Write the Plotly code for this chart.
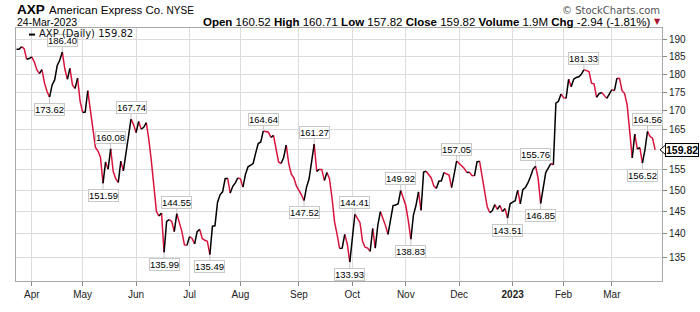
import math
import pandas as pd
import plotly.graph_objects as go

# ---------------- data ----------------
closes = [
    187.2, 187.2, 188.0, 187.4, 184.3, 184.5, 185.0, 183.5, 181.3, 180.2,
    181.3, 177.5, 175.2, 173.62, 177.0, 178.4, 182.5, 184.0, 186.40, 181.5,
    178.6, 181.7, 177.0, 176.0, 178.9, 172.5, 169.5, 169.6, 175.4, 170.0,
    164.5, 160.5, 159.5, 158.0, 151.59, 156.8, 155.0, 160.08, 154.5, 152.7,
    151.8, 157.0, 154.6, 159.0, 163.0, 167.74, 166.3, 164.2, 167.1, 165.1,
    165.6, 166.8, 162.5, 157.0, 151.0, 145.0, 144.0, 144.7, 135.99, 142.8,
    143.2, 142.8, 140.5, 144.55, 142.5, 140.5, 137.6, 137.5, 139.4, 139.0,
    137.8, 140.5, 141.0, 139.0, 138.6, 138.4, 135.49, 141.7, 141.8, 147.1,
    148.9, 149.6, 152.7, 152.8, 149.3, 150.9, 151.7, 152.9, 152.7, 150.7,
    153.8, 155.6, 156.0, 156.4, 159.0, 161.4, 161.8, 164.64, 164.4, 164.3,
    163.0, 163.5, 160.0, 156.8, 156.4, 157.9, 161.0, 156.4, 153.8, 152.9,
    151.0, 150.0, 148.9, 147.52, 150.7, 152.7, 156.4, 161.27, 154.5, 155.0,
    154.9, 152.3, 154.2, 152.7, 148.2, 142.7, 139.9, 136.8, 136.9, 139.9,
    137.8, 133.93, 139.2, 144.41, 143.5, 142.5, 138.4, 137.1, 136.9, 136.2,
    141.2, 136.9, 141.9, 145.0, 143.5, 141.9, 139.9, 142.9, 146.4, 146.5,
    146.8, 149.92, 148.2, 146.4, 142.9, 138.83, 144.2, 146.4, 149.6, 145.3,
    154.3, 154.5, 153.8, 152.9, 151.0, 150.4, 152.1, 152.2, 154.2, 153.9,
    153.6, 150.6, 154.2, 157.05, 156.4, 155.6, 155.2, 154.2, 154.3, 153.5,
    153.4, 156.8, 157.0, 153.4, 148.9, 146.1, 144.8, 145.2, 146.6, 145.5,
    146.4, 145.0, 145.7, 143.51, 146.8, 147.2, 147.5, 150.0, 146.8, 150.1,
    150.6, 151.7, 153.2, 155.0, 155.76, 152.9, 146.85, 151.1, 154.2, 155.3,
    156.4, 156.1, 172.0, 172.5, 174.5, 173.5, 173.3, 178.6, 176.5, 178.6,
    179.1, 179.3, 180.0, 181.33, 181.0, 180.8, 177.5, 177.3, 173.6, 174.6,
    174.9, 174.2, 173.3, 174.5, 175.7, 175.4, 178.9, 178.8, 175.4, 174.6,
    171.6, 165.3, 157.8, 163.8, 160.0, 160.4, 156.52, 159.8, 164.56, 163.2,
    162.76, 159.82,
]
holidays = ["2022-04-15", "2022-05-30", "2022-06-20", "2022-07-04", "2022-09-05",
            "2022-11-24", "2022-12-26", "2023-01-02", "2023-01-16", "2023-02-20"]
high_labels = [186.40, 160.08, 167.74, 144.55, 164.64, 161.27, 144.41, 149.92,
               157.05, 155.76, 181.33, 164.56]
low_labels = [173.62, 151.59, 135.99, 135.49, 147.52, 133.93, 138.83, 143.51,
              146.85, 156.52]
y_ticks = [135, 140, 145, 150, 155, 160, 165, 170, 175, 180, 185, 190]
# the 160 label is hidden behind the last-price tag in the reference
y_tick_labels = ["135", "140", "145", "150", "155", "", "165", "170", "175",
                 "180", "185", "190"]
month_labels = ["Apr", "May", "Jun", "Jul", "Aug", "Sep", "Oct", "Nov", "Dec",
                "<b>2023</b>", "Feb", "Mar"]
header_ticker = "AXP"
header_name = "American Express Co."
header_exch = "NYSE"
header_date = "24-Mar-2023"
quote = {"Open": "160.52", "High": "160.71", "Low": "157.82", "Close": "159.82",
         "Volume": "1.9M", "Chg": "-2.94 (-1.81%)"}

dates = [d for d in pd.bdate_range("2022-03-24", "2023-03-24")
         if d.strftime("%Y-%m-%d") not in holidays]
n = len(closes)
assert len(dates) == n
xs = list(range(n))
month_idx = [i for i in range(1, n) if dates[i].month != dates[i - 1].month]

# ---------------- colored line runs ----------------
up_x, up_y, dn_x, dn_y = [], [], [], []
i = 1
while i < n:
    up = closes[i] >= closes[i - 1]
    j = i
    while j + 1 < n and (closes[j + 1] >= closes[j]) == up:
        j += 1
    sx = xs[i - 1:j + 1] + [None]
    sy = closes[i - 1:j + 1] + [None]
    if up:
        up_x += sx; up_y += sy
    else:
        dn_x += sx; dn_y += sy
    i = j + 1

RED = "#d8143c"
fig = go.Figure()
fig.add_trace(go.Scatter(x=dn_x, y=dn_y, mode="lines", line=dict(color=RED, width=1.5),
                         hoverinfo="skip", showlegend=False))
fig.add_trace(go.Scatter(x=up_x, y=up_y, mode="lines", line=dict(color="black", width=1.5),
                         hoverinfo="skip", showlegend=False))

# ---------------- layout ----------------
PL, PR, PT, PB = 16, 662, 28, 297
W, H = 700, 312
ylo, yhi = math.log10(130.0), math.log10(193.6)


def px(x):
    return (x - PL) / (PR - PL)


def py(y):
    return (PB - y) / (PB - PT)


GRID = "#dcdcdc"
fig.update_layout(
    width=W, height=H,
    margin=dict(l=PL, r=W - PR, t=PT, b=H - PB),
    paper_bgcolor="white", plot_bgcolor="white",
    xaxis=dict(range=[-0.2, 253.7], tickvals=month_idx, ticktext=month_labels,
               showgrid=True, gridcolor=GRID, gridwidth=1, zeroline=False,
               ticks="outside", ticklen=4, tickcolor="#888",
               showline=True, mirror=True, linecolor="#a8a8a8", linewidth=1,
               tickfont=dict(family="Liberation Sans, Arial", size=10, color="#222")),
    yaxis=dict(type="log", side="right", range=[ylo, yhi], tickvals=y_ticks,
               ticktext=y_tick_labels,
               showgrid=True, gridcolor=GRID, gridwidth=1, zeroline=False,
               ticks="outside", ticklen=4, tickcolor="#888",
               showline=True, mirror=True, linecolor="#a8a8a8", linewidth=1,
               tickfont=dict(family="Liberation Sans, Arial", size=10, color="#222")),
)

anns = []
lab_font = dict(family="Liberation Sans, Arial", size=9.5, color="black")
for v in high_labels:
    k = closes.index(v)
    anns.append(dict(x=k, y=math.log10(v), xref="x", yref="y", text=f"{v:.2f}",
                     showarrow=True, arrowhead=0, arrowwidth=1, arrowcolor="#c4c4c4",
                     ax=0, ay=-11.5, bgcolor="white", bordercolor="#c8c8c8",
                     borderwidth=1, borderpad=0, font=lab_font))
for v in low_labels:
    k = closes.index(v)
    anns.append(dict(x=k, y=math.log10(v), xref="x", yref="y", text=f"{v:.2f}",
                     showarrow=True, arrowhead=0, arrowwidth=1, arrowcolor="#c4c4c4",
                     ax=0, ay=12, bgcolor="white", bordercolor="#c8c8c8",
                     borderwidth=1, borderpad=0, font=lab_font))

last = closes[-1]
anns.append(dict(x=1, xref="paper", xanchor="left", xshift=3, y=math.log10(last), yref="y",
                 text=f"<b>{last:.2f}</b>", showarrow=False, bgcolor="white",
                 bordercolor="black", borderwidth=1, borderpad=0,
                 font=dict(family="Liberation Sans, Arial", size=10.5, color="black")))

# legend text
anns.append(dict(x=px(37), y=py(34), xref="paper", yref="paper", xanchor="left",
                 yanchor="middle", showarrow=False,
                 text=f"{header_ticker} (Daily) {last:.2f}",
                 font=dict(family="DejaVu Sans, Verdana", size=10, color="#111")))

# header
anns.append(dict(x=px(15), y=py(8.5), xref="paper", yref="paper", xanchor="left",
                 yanchor="middle", showarrow=False, text=f"<b>{header_ticker}</b>",
                 font=dict(family="Liberation Sans, Arial", size=13.5, color="black")))
anns.append(dict(x=px(47), y=py(9), xref="paper", yref="paper", xanchor="left",
                 yanchor="middle", showarrow=False,
                 text=f"{header_name} <span style='font-size:10px'>{header_exch}</span>",
                 font=dict(family="Liberation Sans, Arial", size=11.5, color="black")))
anns.append(dict(x=px(15), y=py(21.5), xref="paper", yref="paper", xanchor="left",
                 yanchor="middle", showarrow=False, text=header_date,
                 font=dict(family="Liberation Sans, Arial", size=10.5, color="black")))
qtext = " ".join(f"<b>{k}</b> {v}" for k, v in quote.items())
anns.append(dict(x=px(652), y=py(21.5), xref="paper", yref="paper", xanchor="right",
                 yanchor="middle", showarrow=False, text=qtext,
                 font=dict(family="Liberation Sans, Arial", size=11.5, color="black")))
anns.append(dict(x=px(663), y=py(21.5), xref="paper", yref="paper", xanchor="right",
                 yanchor="middle", showarrow=False, text="▼",
                 font=dict(family="DejaVu Sans", size=8, color="#a8102c")))
anns.append(dict(x=px(662), y=py(9), xref="paper", yref="paper", xanchor="right",
                 yanchor="middle", showarrow=False, text="© StockCharts.com",
                 font=dict(family="DejaVu Sans, Verdana", size=10, color="#555")))
fig.update_layout(annotations=anns)

# shapes: legend dash and price pointer
ly = (math.log10(last) - ylo) / (yhi - ylo)
ph = 5.0 / (PB - PT)
shapes = [
    dict(type="line", xref="paper", yref="paper", x0=px(29), x1=px(35), y0=py(35), y1=py(35),
         line=dict(color="black", width=2)),
    dict(type="path", xref="paper", yref="paper",
         path=f"M {px(660)},{ly} L {px(665.5)},{ly + ph} L {px(665.5)},{ly - ph} Z",
         fillcolor="white", line=dict(color="black", width=1), layer="above"),
]
fig.update_layout(shapes=shapes)

fig.write_html("out.html")
